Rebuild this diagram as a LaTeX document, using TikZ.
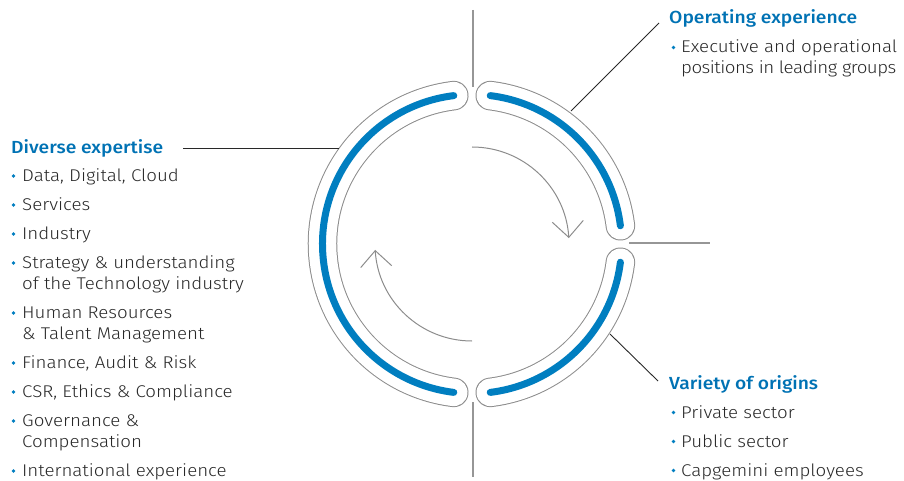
\documentclass[tikz,border=0pt]{standalone}
\usepackage{fontspec}
\setmainfont{Fira Sans Light}[BoldFont=Fira Sans Medium, FakeStretch=1.1]
\usetikzlibrary{arrows.meta}
\definecolor{ringblue}{RGB}{0,126,192}
\definecolor{headblue}{RGB}{0,114,180}
\definecolor{txtgray}{RGB}{40,40,40}
\definecolor{outlgray}{RGB}{140,140,140}
\definecolor{tickgray}{RGB}{150,150,150}
\definecolor{conngray}{RGB}{40,40,40}
\tikzset{
  itemtext/.style={anchor=base west, inner sep=0pt, text=txtgray, font=\fontsize{17}{21}\selectfont},
  headtext/.style={anchor=base west, inner sep=0pt, text=headblue, font=\fontsize{17.5}{21}\selectfont\bfseries},
  bulletdot/.style={fill=ringblue, draw=none},
  conn/.style={draw=conngray, line width=0.9pt},
  tick/.style={draw=tickgray, line width=1.1pt},
  capsout/.style={draw=outlgray, line width=29.5pt, line cap=round},
  capsin/.style={draw=white, line width=27.5pt, line cap=round},
  band/.style={draw=ringblue, line width=7pt, line cap=round},
  cycarrow/.style={draw=outlgray, line width=1pt, -{Straight Barb[length=16pt,width=31pt]}}
}
\begin{document}
\begin{tikzpicture}[x=1pt,y=-1pt]
\useasboundingbox (0,0) rectangle (904,481);
\coordinate (C) at (472,244);

% ring segments
\foreach \s/\e in {-97/-263, -83/-7, 7/83} {
  \draw[capsout] ([shift={(\s:149.5)}]C) arc[start angle=\s, end angle=\e, radius=149.5];
  \draw[capsin] ([shift={(\s:149.5)}]C) arc[start angle=\s, end angle=\e, radius=149.5];
  \draw[band] ([shift={(\s:149.5)}]C) arc[start angle=\s, end angle=\e, radius=149.5];
}

% cycle arrows
\draw[cycarrow] ([shift={(-90:97)}]C) arc[start angle=-90, end angle=-3.5, radius=97];
\draw[cycarrow] ([shift={(90:97)}]C) arc[start angle=90, end angle=176.5, radius=97];

% separators
\coordinate (tA) at (473,10);   \coordinate (tB) at (473,87);
\coordinate (bA) at (473,402);  \coordinate (bB) at (473,477);
\coordinate (rA) at (629,243);  \coordinate (rB) at (710,243);
\draw[tick] (tA) -- (tB);
\draw[tick] (bA) -- (bB);
\draw[tick] (rA) -- (rB);

% left block
\node[headtext] (hDiv) at (11,153.5) {Diverse expertise};
\coordinate (divA) at (183,148); \coordinate (divB) at (339,148);
\draw[conn] (divA) -- (divB);

\foreach \y/\t/\n in {181.5/{Data, Digital, Cloud}/l1, 210.5/Services/l2, 239.5/Industry/l3,
  268.5/{Strategy \& understanding}/l4, 318.5/Human Resources/l5, 368.5/{Finance, Audit \& Risk}/l6,
  397.5/{CSR, Ethics \& Compliance}/l7, 426.5/{Governance \&}/l8, 476.5/International experience/l9} {
  \fill[bulletdot] (13.5,\y-5.5) circle[radius=1.8];
  \node[itemtext] (\n) at (22,\y) {\t};
}
\node[itemtext] (l4b) at (22,289.5) {of the Technology industry};
\node[itemtext] (l5b) at (22,339.5) {\& Talent Management};
\node[itemtext] (l8b) at (22,447.5) {Compensation};

% right top block
\node[headtext] (hOp) at (669,24) {Operating experience};
\coordinate (opA) at (659,23); \coordinate (opB) at (571,111);
\draw[conn] (opA) -- (opB);
\fill[bulletdot] (673.5,47.5) circle[radius=1.8];
\node[itemtext] (r1) at (681,53) {Executive and operational};
\node[itemtext] (r1b) at (681,74) {\addfontfeature{LetterSpace=-3}positions in leading groups};

% right bottom block
\node[headtext] (hVar) at (669,389.5) {Variety of origins};
\coordinate (vaA) at (610,334); \coordinate (vaB) at (658,381);
\draw[conn] (vaA) -- (vaB);
\foreach \y/\t/\n in {418/Private sector/r2, 447/Public sector/r3, 476/Capgemini employees/r4} {
  \fill[bulletdot] (673.5,\y-5.5) circle[radius=1.8];
  \node[itemtext] (\n) at (681,\y) {\t};
}
\end{tikzpicture}
\end{document}
